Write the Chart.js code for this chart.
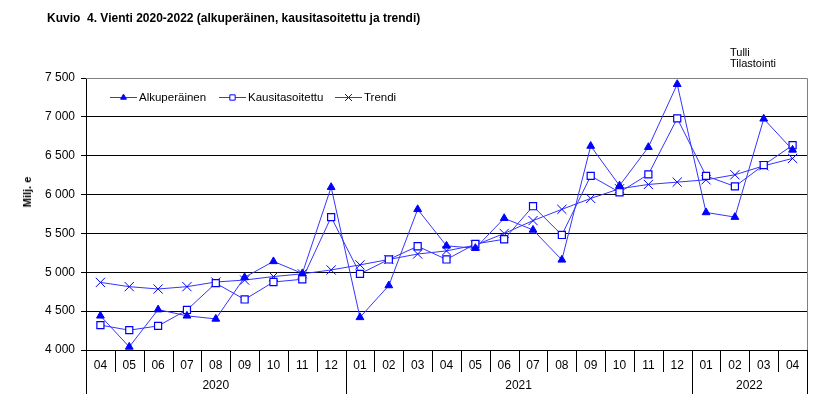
<!DOCTYPE html>
<html>
<head>
<meta charset="utf-8">
<script src="https://cdn.jsdelivr.net/npm/chart.js@4/dist/chart.umd.min.js"></script>
<style>
  html, body { margin: 0; padding: 0; background: #fff; }
  #wrap { position: relative; width: 832px; height: 416px; font-family: "Liberation Sans", Arial, sans-serif; }
  #title { position: absolute; left: 47px; top: 11px; font-size: 12px; font-weight: bold; white-space: pre; color: #000; }
  #source { position: absolute; left: 730px; top: 47px; font-size: 11px; line-height: 11px; color: #000; }
  #ytitle { position: absolute; left: 27px; top: 192px; font-size: 11px; font-weight: bold; transform: translate(-50%, -50%) rotate(-90deg); white-space: nowrap; }
  canvas { position: absolute; left: 0; top: 0; }
</style>
</head>
<body>
<div id="wrap">
  <canvas id="chart" width="832" height="416"></canvas>
  <div id="title">Kuvio  4. Vienti 2020-2022 (alkuperäinen, kausitasoitettu ja trendi)</div>
  <div id="source">Tulli<br>Tilastointi</div>
  <div id="ytitle">Milj. e</div>
</div>
<script>
const months = ["04","05","06","07","08","09","10","11","12",
                "01","02","03","04","05","06","07","08","09","10","11","12",
                "01","02","03","04"];
const years = ["2020", "2021", "2022"];
const yearSpans = [9, 12, 4];

const alkuperainen = [4440, 4040, 4520, 4440, 4400, 4935, 5140, 4985, 6095,
                      4420, 4830, 5810, 5340, 5310, 5695, 5545, 5160, 6625, 6115, 6610, 7420,
                      5770, 5710, 6975, 6575];
const kausitasoitettu = [4320, 4255, 4310, 4515, 4860, 4650, 4875, 4910, 5710,
                         4980, 5165, 5335, 5165, 5365, 5425, 5850, 5480, 6240, 6030, 6260, 6980,
                         6240, 6105, 6380, 6635];
const trendi = [4870, 4815, 4785, 4815, 4875, 4900, 4945, 4980, 5030,
                5095, 5165, 5235, 5275, 5350, 5500, 5665, 5810, 5950, 6075, 6130, 6160,
                6190, 6255, 6370, 6465];

const FONT = "'Liberation Sans', Arial, sans-serif";
const lineBlue = "#3434ff";
const markBlue = "#0000ff";

// legend, axis separators, year labels and frame
const decor = {
    id: "decor",
    afterDraw(chart) {
        const ctx = chart.ctx;
        const x = chart.scales.x;
        const a = chart.chartArea;
        const step = x.getPixelForValue(1) - x.getPixelForValue(0);
        ctx.save();
        ctx.lineWidth = 1;
        ctx.strokeStyle = "#000";
        // month separators
        for (let i = 0; i <= months.length; i++) {
            const px = Math.round(x.getPixelForValue(i) - step / 2) + 0.5;
            ctx.beginPath();
            ctx.moveTo(px, a.bottom);
            ctx.lineTo(px, a.bottom + 22);
            ctx.stroke();
        }
        // year separators + labels
        ctx.font = "12px " + FONT;
        ctx.fillStyle = "#000";
        ctx.textAlign = "center";
        ctx.textBaseline = "middle";
        let start = 0;
        years.forEach((yr, k) => {
            const l = x.getPixelForValue(start) - step / 2;
            const r = x.getPixelForValue(start + yearSpans[k] - 1) + step / 2;
            [l, r].forEach(px => {
                const p = Math.round(px) + 0.5;
                ctx.beginPath();
                ctx.moveTo(p, a.bottom);
                ctx.lineTo(p, a.bottom + 44);
                ctx.stroke();
            });
            ctx.fillText(yr, (l + r) / 2, a.bottom + 36);
            start += yearSpans[k];
        });
        // grey frame top/right
        ctx.strokeStyle = "#808080";
        ctx.beginPath();
        ctx.moveTo(Math.round(a.left), Math.round(a.top) + 0.5);
        ctx.lineTo(Math.round(a.right) + 0.5, Math.round(a.top) + 0.5);
        ctx.lineTo(Math.round(a.right) + 0.5, Math.round(a.bottom));
        ctx.stroke();
        // legend
        const items = [[110, 139], [219, 248], [335, 364]];
        const ly = a.top + 19.5;
        ctx.font = "11.5px " + FONT;
        ctx.textAlign = "left";
        chart.data.datasets.forEach((ds, i) => {
            const [x0, tx] = items[i];
            ctx.strokeStyle = ds.borderColor;
            ctx.beginPath();
            ctx.moveTo(x0, ly);
            ctx.lineTo(x0 + 27, ly);
            ctx.stroke();
            ctx.fillStyle = ds.pointBackgroundColor;
            ctx.strokeStyle = ds.pointBorderColor;
            ctx.lineWidth = 1;
            Chart.helpers.drawPoint(ctx, {
                pointStyle: ds.pointStyle, radius: ds.pointRadius * 0.75,
                rotation: 0, borderWidth: 1
            }, x0 + 13.5, ly);
            ctx.fillStyle = "#000";
            ctx.fillText(ds.label, tx, ly);
        });
        ctx.restore();
    }
};

new Chart(document.getElementById("chart"), {
    type: "line",
    data: {
        labels: months,
        datasets: [{
            label: "Alkuperäinen",
            data: alkuperainen,
            borderColor: lineBlue,
            borderWidth: 1,
            pointStyle: "triangle",
            pointRadius: 4.5,
            pointBackgroundColor: markBlue,
            pointBorderColor: markBlue,
            pointBorderWidth: 1
        }, {
            label: "Kausitasoitettu",
            data: kausitasoitettu,
            borderColor: lineBlue,
            borderWidth: 1,
            pointStyle: "rect",
            pointRadius: 5,
            pointBackgroundColor: "#ffffff",
            pointBorderColor: markBlue,
            pointBorderWidth: 1.2
        }, {
            label: "Trendi",
            data: trendi,
            borderColor: lineBlue,
            borderWidth: 1,
            pointStyle: "crossRot",
            pointRadius: 6.5,
            pointBackgroundColor: markBlue,
            pointBorderColor: markBlue,
            pointBorderWidth: 1
        }]
    },
    options: {
        responsive: false,
        animation: false,
        layout: { padding: { left: 0, right: 25, top: 78, bottom: 0 } },
        scales: {
            x: {
                offset: true,
                afterFit: s => { s.height = 66; },
                grid: { display: false, offset: true },
                border: { display: true, color: "#000", width: 1 },
                ticks: {
                    color: "#000", padding: 0, maxRotation: 0, autoSkip: false,
                    font: { family: FONT, size: 12 }
                }
            },
            y: {
                min: 4000,
                max: 7500,
                afterFit: s => { s.width = 86; },
                border: { display: true, color: "#000", width: 1 },
                grid: {
                    color: c => c.tick && c.tick.value === 7500 ? "#808080" : "#000",
                    tickColor: "#000",
                    tickLength: 5,
                    drawTicks: true
                },
                ticks: {
                    stepSize: 500,
                    padding: 6,
                    color: "#000",
                    font: { family: FONT, size: 12 },
                    callback: v => String(v).replace(/\B(?=(\d{3})+(?!\d))/g, " ")
                }
            }
        },
        plugins: {
            legend: { display: false },
            title: { display: false },
            tooltip: { enabled: false }
        }
    },
    plugins: [decor]
});
</script>
</body>
</html>
